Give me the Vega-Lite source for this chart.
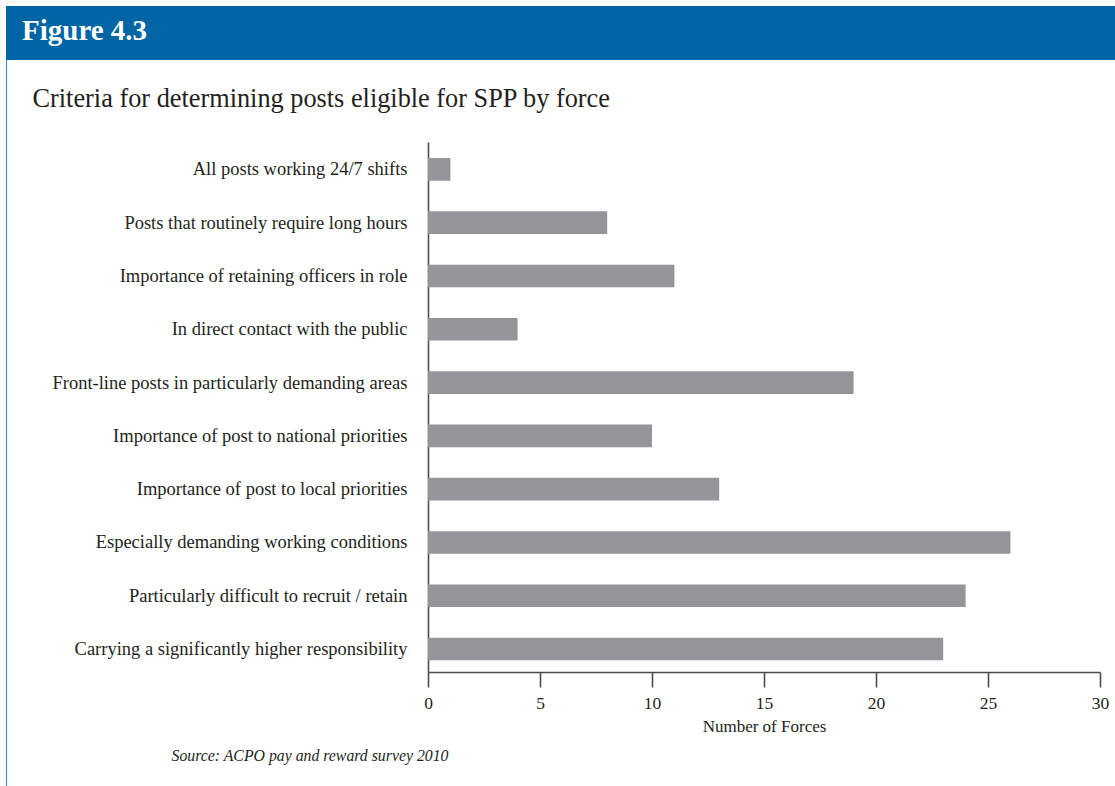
{
  "$schema": "https://vega.github.io/schema/vega-lite/v6.json",
  "background": "white",
  "padding": {"left": 6, "top": 6, "right": 0, "bottom": 0},
  "config": {
    "view": {"stroke": null},
    "font": "Liberation Serif",
    "concat": {"spacing": 0}
  },
  "spacing": 0,
  "vconcat": [
    {
      "width": 1109,
      "height": 54,
      "data": {"values": [{"label": "Figure 4.3"}]},
      "layer": [
        {
          "mark": {"type": "rect", "color": "#0065a4"},
          "encoding": {}
        },
        {
          "mark": {
            "type": "text",
            "align": "left",
            "baseline": "alphabetic",
            "dx": -538.5,
            "dy": 7,
            "font": "Liberation Serif",
            "fontSize": 29,
            "fontWeight": "bold",
            "color": "white"
          },
          "encoding": {"text": {"field": "label"}}
        }
      ]
    },
    {
      "spacing": 0,
      "hconcat": [
        {
          "width": 1,
          "height": 726,
          "data": {"values": [{"part": "border"}]},
          "mark": {"type": "rect", "color": "#3385c6"},
          "encoding": {}
        },
        {
          "spacing": 0,
          "title": {
            "text": "Source: ACPO pay and reward survey 2010",
            "orient": "bottom",
            "anchor": "start",
            "frame": "bounds",
            "dx": 164,
            "offset": 14,
            "font": "Liberation Serif",
            "fontSize": 15.8,
            "fontStyle": "italic",
            "fontWeight": "normal",
            "color": "#231f20"
          },
          "vconcat": [
            {
              "width": 1,
              "height": 25,
              "data": {"values": [{"part": "spacer"}]},
              "mark": {"type": "rect", "opacity": 0},
              "encoding": {}
            },
            {
              "width": 672,
              "height": 530,
              "data": {
                "values": [
                  {"criterion": "All posts working 24/7 shifts", "forces": 1},
                  {"criterion": "Posts that routinely require long hours", "forces": 8},
                  {"criterion": "Importance of retaining officers in role", "forces": 11},
                  {"criterion": "In direct contact with the public", "forces": 4},
                  {"criterion": "Front-line posts in particularly demanding areas", "forces": 19},
                  {"criterion": "Importance of post to national priorities", "forces": 10},
                  {"criterion": "Importance of post to local priorities", "forces": 13},
                  {"criterion": "Especially demanding working conditions", "forces": 26},
                  {"criterion": "Particularly difficult to recruit / retain", "forces": 24},
                  {"criterion": "Carrying a significantly higher responsibility", "forces": 23}
                ]
              },
              "title": {
                "text": "Criteria for determining posts eligible for SPP by force",
                "anchor": "start",
                "frame": "bounds",
                "dx": 25,
                "offset": 30,
                "font": "Liberation Serif",
                "fontSize": 26.3,
                "fontWeight": "normal",
                "color": "#231f20"
              },
              "mark": {"type": "bar", "color": "#939598"},
              "encoding": {
                "y": {
                  "field": "criterion",
                  "type": "nominal",
                  "sort": null,
                  "scale": {"paddingInner": 0.575, "paddingOuter": 0.26, "align": 0.58},
                  "axis": {
                    "title": null,
                    "ticks": false,
                    "labelPadding": 21,
                    "labelFont": "Liberation Serif",
                    "labelFontSize": 18.5,
                    "labelColor": "#231f20",
                    "labelLimit": 0,
                    "domainColor": "#4d4d4f",
                    "domainWidth": 1.6,
                    "minExtent": 420.5
                  }
                },
                "x": {
                  "field": "forces",
                  "type": "quantitative",
                  "scale": {"domain": [0, 30], "nice": false},
                  "axis": {
                    "values": [0, 5, 10, 15, 20, 25, 30],
                    "grid": false,
                    "tickSize": 15,
                    "tickWidth": 1.6,
                    "tickColor": "#4d4d4f",
                    "domainColor": "#4d4d4f",
                    "domainWidth": 1.6,
                    "labelFont": "Liberation Serif",
                    "labelFontSize": 17.5,
                    "labelColor": "#231f20",
                    "labelPadding": 7,
                    "labelFlush": false,
                    "title": "Number of Forces",
                    "titleFont": "Liberation Serif",
                    "titleFontSize": 17,
                    "titleFontWeight": "normal",
                    "titleColor": "#231f20",
                    "titlePadding": 7
                  }
                }
              }
            }
          ]
        }
      ]
    }
  ]
}
